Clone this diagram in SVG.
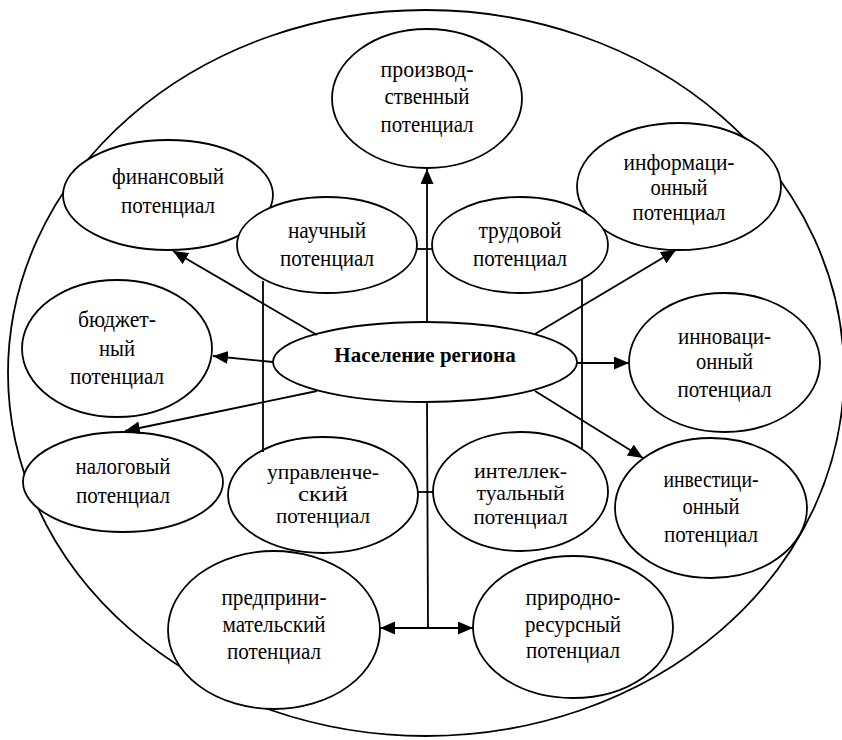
<svg xmlns="http://www.w3.org/2000/svg" width="842" height="740" viewBox="0 0 842 740">
<defs>
<style>
.n{fill:#fff;stroke:#000;stroke-width:1.8}
.b{fill:none;stroke:#000;stroke-width:1.8}
.t{font-family:"Liberation Serif","DejaVu Serif",serif;font-size:24px;fill:#000;text-anchor:middle}
.s{font-size:21px}
.tb{font-weight:bold;font-size:21px}
.c line{stroke:#000;stroke-width:1.8}
.a{marker-end:url(#ah)}
</style>
<marker id="ah" markerUnits="userSpaceOnUse" markerWidth="16" markerHeight="14" refX="15" refY="6.5" orient="auto">
<path d="M0,0 L15,6.5 L0,13 z" fill="#000"/>
</marker>
</defs>
<rect width="842" height="740" fill="#fff"/>
<g id="boundary"><ellipse class="b" cx="426" cy="373" rx="418" ry="363"/></g>
<g id="proizvodstvenny"><ellipse class="n" cx="427" cy="98.5" rx="95" ry="69.5"/><text class="t" x="427" y="77" textLength="93" lengthAdjust="spacingAndGlyphs">производ-</text><text class="t" x="427" y="104" textLength="85" lengthAdjust="spacingAndGlyphs">ственный</text><text class="t" x="427" y="132" textLength="93" lengthAdjust="spacingAndGlyphs">потенциал</text></g>
<g id="finansovy"><ellipse class="n" cx="168" cy="195" rx="105" ry="55"/><text class="t" x="168" y="184" textLength="112" lengthAdjust="spacingAndGlyphs">финансовый</text><text class="t" x="168" y="213" textLength="94" lengthAdjust="spacingAndGlyphs">потенциал</text></g>
<g id="informatsionny"><ellipse class="n" cx="679" cy="186.5" rx="102" ry="63.5"/><text class="t" x="679" y="170" textLength="111" lengthAdjust="spacingAndGlyphs">информаци-</text><text class="t" x="679" y="195" textLength="57" lengthAdjust="spacingAndGlyphs">онный</text><text class="t" x="679" y="220" textLength="93" lengthAdjust="spacingAndGlyphs">потенциал</text></g>
<g id="nauchny"><ellipse class="n" cx="327" cy="245" rx="90" ry="48"/><text class="t" x="327" y="238" textLength="78" lengthAdjust="spacingAndGlyphs">научный</text><text class="t" x="327" y="266" textLength="94" lengthAdjust="spacingAndGlyphs">потенциал</text></g>
<g id="trudovoy"><ellipse class="n" cx="520" cy="245" rx="88" ry="48"/><text class="t" x="520" y="238" textLength="83" lengthAdjust="spacingAndGlyphs">трудовой</text><text class="t" x="520" y="266" textLength="94" lengthAdjust="spacingAndGlyphs">потенциал</text></g>
<g id="byudzhetny"><ellipse class="n" cx="117" cy="348.5" rx="95" ry="68.5"/><text class="t" x="117" y="327" textLength="78" lengthAdjust="spacingAndGlyphs">бюджет-</text><text class="t" x="117" y="356" textLength="36" lengthAdjust="spacingAndGlyphs">ный</text><text class="t" x="117" y="384" textLength="94" lengthAdjust="spacingAndGlyphs">потенциал</text></g>
<g id="naselenie"><ellipse class="n" cx="425" cy="362" rx="152" ry="40"/><text class="t tb" x="425" y="362">Население региона</text></g>
<g id="innovatsionny"><ellipse class="n" cx="724.5" cy="362.5" rx="95.5" ry="69.5"/><text class="t" x="724.5" y="344" textLength="93" lengthAdjust="spacingAndGlyphs">инноваци-</text><text class="t" x="724.5" y="369" textLength="57" lengthAdjust="spacingAndGlyphs">онный</text><text class="t" x="724.5" y="397" textLength="94" lengthAdjust="spacingAndGlyphs">потенциал</text></g>
<g id="nalogovy"><ellipse class="n" cx="123" cy="482" rx="100" ry="50"/><text class="t" x="123" y="474" textLength="95" lengthAdjust="spacingAndGlyphs">налоговый</text><text class="t" x="123" y="503" textLength="94" lengthAdjust="spacingAndGlyphs">потенциал</text></g>
<g id="upravlenchesky"><ellipse class="n" cx="323" cy="495" rx="95" ry="58"/><text class="t s" x="323" y="479" textLength="112" lengthAdjust="spacingAndGlyphs">управленче-</text><text class="t s" x="323" y="501" textLength="50" lengthAdjust="spacingAndGlyphs">ский</text><text class="t s" x="323" y="523" textLength="94" lengthAdjust="spacingAndGlyphs">потенциал</text></g>
<g id="intellektualny"><ellipse class="n" cx="520.5" cy="491.5" rx="87.5" ry="59.5"/><text class="t s" x="520.5" y="478" textLength="93" lengthAdjust="spacingAndGlyphs">интеллек-</text><text class="t s" x="520.5" y="500" textLength="88" lengthAdjust="spacingAndGlyphs">туальный</text><text class="t s" x="520.5" y="524" textLength="94" lengthAdjust="spacingAndGlyphs">потенциал</text></g>
<g id="investitsionny"><ellipse class="n" cx="711" cy="508" rx="96" ry="70"/><text class="t" x="711" y="487" textLength="95" lengthAdjust="spacingAndGlyphs">инвестици-</text><text class="t" x="711" y="514" textLength="57" lengthAdjust="spacingAndGlyphs">онный</text><text class="t" x="711" y="542" textLength="94" lengthAdjust="spacingAndGlyphs">потенциал</text></g>
<g id="predprinimatelsky"><ellipse class="n" cx="274" cy="630" rx="106" ry="79"/><text class="t" x="274" y="605" textLength="105" lengthAdjust="spacingAndGlyphs">предприни-</text><text class="t" x="274" y="632" textLength="103" lengthAdjust="spacingAndGlyphs">мательский</text><text class="t" x="274" y="659" textLength="94" lengthAdjust="spacingAndGlyphs">потенциал</text></g>
<g id="prirodno"><ellipse class="n" cx="573" cy="627" rx="100" ry="71"/><text class="t" x="573" y="605" textLength="95" lengthAdjust="spacingAndGlyphs">природно-</text><text class="t" x="573" y="632" textLength="96" lengthAdjust="spacingAndGlyphs">ресурсный</text><text class="t" x="573" y="658" textLength="94" lengthAdjust="spacingAndGlyphs">потенциал</text></g>
<g id="connectors" class="c">
<line class="a" x1="427" y1="322" x2="427" y2="169"/>
<line x1="416" y1="249" x2="433" y2="249"/>
<line x1="263" y1="281" x2="263" y2="452"/>
<line x1="582" y1="279" x2="582" y2="449"/>
<line x1="417" y1="492" x2="433" y2="492"/>
<line class="a" x1="317" y1="335" x2="173" y2="251"/>
<line class="a" x1="273" y1="362" x2="213" y2="356"/>
<line class="a" x1="317" y1="391" x2="125" y2="431"/>
<line class="a" x1="535" y1="334" x2="676" y2="250"/>
<line class="a" x1="577" y1="363" x2="629" y2="363"/>
<line class="a" x1="535" y1="391" x2="643" y2="458"/>
<line x1="427" y1="402" x2="428" y2="628"/>
<line class="a" x1="428" y1="628" x2="380" y2="628"/>
<line class="a" x1="428" y1="628" x2="473" y2="628"/>
</g>
</svg>
